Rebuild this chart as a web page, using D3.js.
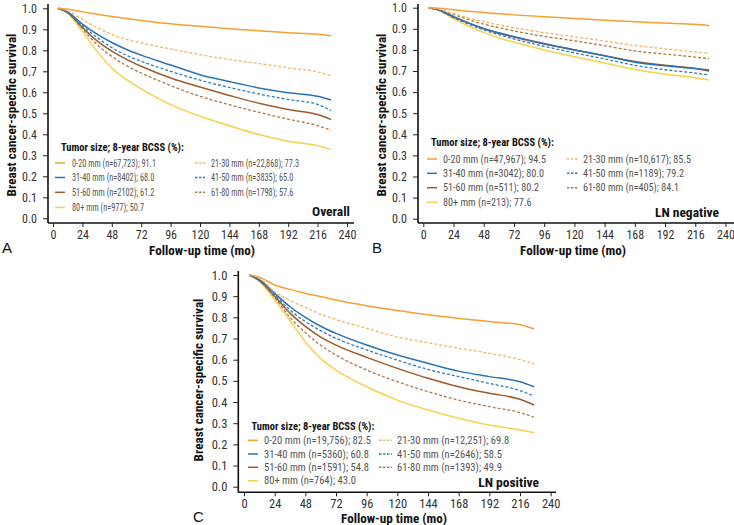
<!DOCTYPE html>
<html><head><meta charset="utf-8">
<script src="https://cdn.jsdelivr.net/npm/d3@7"></script>
<style>
html,body{margin:0;padding:0;background:#fff;}
svg{display:block;}
text{font-family:"Liberation Sans Narrow","Roboto Condensed","Liberation Sans",Arial,sans-serif;}
</style></head>
<body><svg id="chart" width="734" height="525"></svg>
<script>
// ---------- DATA ----------
const times = [4, 12, 24, 36, 48, 60, 72, 96, 120, 144, 168, 192, 216, 227];
const xTicks = [0, 24, 48, 72, 96, 120, 144, 168, 192, 216, 240];
const yTicks = [0, 0.1, 0.2, 0.3, 0.4, 0.5, 0.6, 0.7, 0.8, 0.9, 1.0];
const groups = ["0-20 mm", "21-30 mm", "31-40 mm", "41-50 mm", "51-60 mm", "61-80 mm", "80+ mm"];

// Panel A: Overall
const overall_0_20  = [1, .995, .983, .972, .961, .951, .942, .926, .914, .903, .893, .884, .876, .869];
const overall_21_30 = [1, .988, .947, .908, .876, .852, .835, .806, .779, .756, .737, .716, .697, .679];
const overall_31_40 = [1, .982, .925, .877, .837, .804, .777, .730, .684, .651, .621, .598, .581, .563];
const overall_41_50 = [1, .981, .917, .861, .813, .776, .748, .700, .658, .623, .592, .566, .542, .513];
const overall_51_60 = [1, .980, .909, .845, .796, .757, .724, .668, .625, .585, .548, .518, .494, .470];
const overall_61_80 = [1, .979, .903, .827, .771, .727, .692, .632, .581, .541, .505, .472, .441, .419];
const overall_80p   = [1, .977, .890, .795, .716, .660, .616, .541, .486, .441, .399, .367, .346, .327];
const legendOverall = ["0-20 mm (n=67,723); 91.1", "21-30 mm (n=22,868); 77.3", "31-40 mm (n=8402); 68.0",
  "41-50 mm (n=3835); 65.0", "51-60 mm (n=2102); 61.2", "61-80 mm (n=1798); 57.6", "80+ mm  (n=977); 50.7"];

// Panel B: LN negative
const lnneg_0_20  = [1, .997, .990, .983, .977, .971, .966, .957, .949, .941, .933, .927, .921, .915];
const lnneg_21_30 = [1, .993, .972, .951, .934, .918, .905, .882, .862, .842, .821, .805, .790, .784];
const lnneg_31_40 = [1, .990, .958, .928, .902, .881, .863, .830, .800, .772, .742, .725, .712, .705];
const lnneg_41_50 = [1, .989, .953, .922, .895, .872, .852, .817, .786, .757, .727, .706, .690, .681];
const lnneg_51_60 = [1, .990, .956, .927, .900, .879, .861, .828, .800, .772, .745, .727, .712, .700];
const lnneg_61_80 = [1, .992, .968, .943, .922, .905, .890, .864, .843, .820, .795, .780, .766, .758];
const lnneg_80p   = [1, .988, .948, .912, .883, .858, .837, .800, .768, .738, .707, .685, .668, .657];
const legendLNneg = ["0-20 mm (n=47,967); 94.5", "21-30 mm (n=10,617); 85.5", "31-40 mm (n=3042); 80.0",
  "41-50 mm (n=1189); 79.2", "51-60 mm (n=511); 80.2", "61-80 mm (n=405); 84.1", "80+ mm (n=213); 77.6"];

// Panel C: LN positive
const lnpos_0_20  = [1, .990, .953, .932, .913, .898, .882, .855, .832, .812, .795, .780, .765, .745];
const lnpos_21_30 = [1, .985, .921, .880, .847, .815, .790, .748, .707, .680, .654, .630, .600, .580];
const lnpos_31_40 = [1, .978, .913, .850, .800, .758, .724, .669, .622, .583, .546, .520, .496, .472];
const lnpos_41_50 = [1, .976, .905, .835, .780, .737, .701, .646, .598, .554, .520, .488, .454, .428];
const lnpos_51_60 = [1, .974, .900, .820, .757, .707, .669, .611, .559, .512, .472, .441, .413, .386];
const lnpos_61_80 = [1, .973, .894, .800, .728, .668, .622, .551, .496, .449, .409, .378, .350, .328];
const lnpos_80p   = [1, .970, .882, .785, .685, .605, .551, .472, .409, .362, .323, .291, .268, .255];
const legendLNpos = ["0-20 mm (n=19,756); 82.5", "21-30 mm (n=12,251); 69.8", "31-40 mm (n=5360); 60.8",
  "41-50 mm (n=2646); 58.5", "51-60 mm (n=1591); 54.8", "61-80 mm (n=1393); 49.9", "80+ mm (n=764); 43.0"];

const legendTitle = "Tumor size; 8-year BCSS (%):";
const xTitle = "Follow-up time (mo)";
const yTitle = "Breast cancer-specific survival";

// ---------- STYLE ----------
const colors = ["#F5A031", "#F6B45E", "#2A72B6", "#2F7BC0", "#9E5A2A", "#AE7A4C", "#F8D04A"];
const dashed = [false, true, false, true, false, true, false];

const panels = [
  {letter:"A", name:"Overall", series:[overall_0_20, overall_21_30, overall_31_40, overall_41_50, overall_51_60, overall_61_80, overall_80p],
   legend:legendOverall, xr:[53,347], yr:[218.3,8.3], axX:48, axY:223, axTop:4, axRight:354,
   tickFs:12, yTitleX:11, yTitleY:115, xTitleX:202, xTitleY:250, letterX:2, letterY:248,
   nameX:350, nameY:211, legW:84, legTitleX:61, legTitleY:147, rows:[163,177.5,192.3,207.5],
   c1:[55,65,72], c2:[195,205,211]},
  {letter:"B", name:"LN negative", series:[lnneg_0_20, lnneg_21_30, lnneg_31_40, lnneg_41_50, lnneg_51_60, lnneg_61_80, lnneg_80p],
   legend:legendLNneg, xr:[423.3,725.5], yr:[218.7,7.7], axX:418, axY:223, axTop:4, axRight:734,
   tickFs:12, yTitleX:381, yTitleY:115, xTitleX:573, xTitleY:250, letterX:372, letterY:248,
   nameX:719, nameY:212, legW:103, legTitleX:431, legTitleY:142.3, rows:[159,173.3,187.7,202.3],
   c1:[427,437,443], c2:[567,578,583]},
  {letter:"C", name:"LN positive", series:[lnpos_0_20, lnpos_21_30, lnpos_31_40, lnpos_41_50, lnpos_51_60, lnpos_61_80, lnpos_80p],
   legend:legendLNpos, xr:[244,550.7], yr:[486.7,275], axX:238.3, axY:492.3, axTop:271, axRight:556,
   tickFs:12.5, yTitleX:198, yTitleY:380, xTitleX:394, xTitleY:518, letterX:193, letterY:517,
   nameX:539, nameY:482, legW:107, legTitleX:251.5, legTitleY:426.7, rows:[440.3,454,467.3,480.7],
   c1:[248,258,264], c2:[379,392,397]}
];

const svg = d3.select("#chart");
const legendFont = '"Liberation Sans Narrow","Roboto Condensed",Roboto,sans-serif';
const legendFs = 10.5;

// size a text so that its rendered width matches the target width
function fitText(sel, fs, target) {
  sel.style("font-size", fs + "px");
  const w = sel.node().getComputedTextLength();
  const nf = w > 0 ? fs * target / w : fs;
  sel.style("font-size", nf + "px");
  return nf;
}

panels.forEach(p => {
  const g = svg.append("g");
  const x = d3.scaleLinear().domain([0, 240]).range(p.xr);
  const y = d3.scaleLinear().domain([0, 1]).range(p.yr);

  // axes
  const xa = g.append("g").attr("transform", `translate(0,${p.axY})`)
    .call(d3.axisBottom(x).tickValues(xTicks).tickSize(4).tickSizeOuter(0).tickPadding(3));
  xa.select(".domain").remove();
  const ya = g.append("g").attr("transform", `translate(${p.axX},0)`)
    .call(d3.axisLeft(y).tickValues(yTicks).tickFormat(d3.format(".1f")).tickSize(5).tickSizeOuter(0).tickPadding(6));
  ya.select(".domain").remove();
  [xa, ya].forEach(a => {
    a.selectAll("line").attr("stroke", "#222").attr("stroke-width", 1);
    a.selectAll("text").attr("fill", "#333").style("font-size", p.tickFs + "px")
      .style("font-family", '"Liberation Sans Narrow","Roboto Condensed","Liberation Sans",sans-serif');
  });
  g.append("line").attr("x1", p.axX).attr("x2", p.axRight).attr("y1", p.axY).attr("y2", p.axY)
    .attr("stroke", "#111").attr("stroke-width", 1.6);
  g.append("line").attr("x1", p.axX).attr("x2", p.axX).attr("y1", p.axTop).attr("y2", p.axY)
    .attr("stroke", "#111").attr("stroke-width", 1.6);

  // curves (draw in reverse so 0-20 sits on top)
  const line = d3.line().x((d, i) => x(times[i])).y(d => y(d)).curve(d3.curveMonotoneX);
  p.series.map((s, i) => ({s, i})).reverse().forEach(({s, i}) => {
    g.append("path").datum(s).attr("d", line).attr("fill", "none")
      .attr("stroke", colors[i]).attr("stroke-width", dashed[i] ? 1.3 : 1.5)
      .attr("stroke-dasharray", dashed[i] ? "3,2" : null);
  });

  // titles
  const xt = g.append("text").attr("x", p.xTitleX)
    .attr("text-anchor", "middle").style("font-weight", "bold").attr("fill", "#111").text(xTitle);
  const xf = fitText(xt, 13, 106);
  xt.attr("y", p.xTitleY + xf * 0.35);
  const yt = g.append("text").attr("text-anchor", "middle").style("font-weight", "bold")
    .attr("fill", "#111").text(yTitle);
  const yf = fitText(yt, 13, 163);
  yt.attr("transform", `translate(${p.yTitleX + yf * 0.35},${p.yTitleY}) rotate(-90)`);
  g.append("text").attr("x", p.letterX).attr("y", p.letterY + 15 * 0.35)
    .style("font-size", "15px").style("font-family", '"Liberation Sans",Arial,sans-serif').attr("fill", "#111").text(p.letter);
  g.append("text").attr("x", p.nameX).attr("y", p.nameY + 13.5 * 0.35).attr("text-anchor", "end")
    .style("font-size", "13.5px").style("font-weight", "bold").attr("fill", "#111").text(p.name);

  // legend
  const lt = g.append("text").attr("x", p.legTitleX).style("font-weight", "bold").attr("fill", "#111").text(legendTitle);
  const lf = fitText(lt, 11, 123);
  lt.attr("y", p.legTitleY + lf * 0.35);

  // width factor for this panel's legend entries (the reference uses a condensed face)
  const probe = g.append("text").style("font-family", legendFont).style("font-size", legendFs + "px").text(p.legend[0]);
  const factor = p.legW / probe.node().getComputedTextLength();
  probe.remove();

  const order = [[0, 0, 0], [2, 0, 1], [4, 0, 2], [6, 0, 3], [1, 1, 0], [3, 1, 1], [5, 1, 2]];
  order.forEach(([si, col, row]) => {
    const c = col === 0 ? p.c1 : p.c2;
    const yy = p.rows[row];
    g.append("line").attr("x1", c[0]).attr("x2", c[1]).attr("y1", yy).attr("y2", yy)
      .attr("stroke", colors[si]).attr("stroke-width", 1.5)
      .attr("stroke-dasharray", dashed[si] ? "2.5,1.5" : null);
    const t = g.append("text").attr("x", c[2]).attr("y", yy + legendFs * 0.36)
      .style("font-size", legendFs + "px").style("font-family", legendFont)
      .attr("fill", "#555").text(p.legend[si]);
    const w = t.node().getComputedTextLength();
    t.attr("textLength", w * factor).attr("lengthAdjust", "spacingAndGlyphs");
  });
});
</script>
</body></html>
